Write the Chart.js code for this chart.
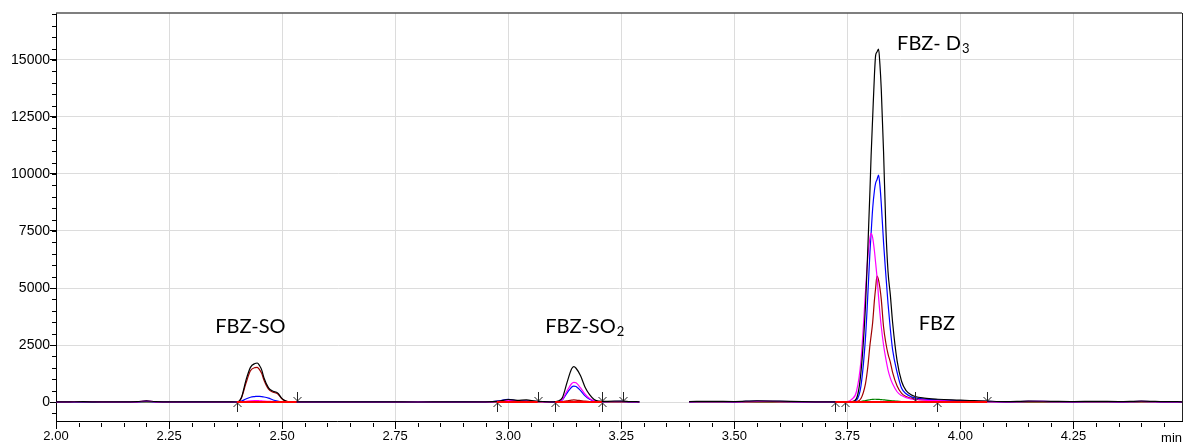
<!DOCTYPE html>
<html>
<head>
<meta charset="utf-8">
<script src="https://cdn.jsdelivr.net/npm/chart.js@4.4.0/dist/chart.umd.min.js"></script>
<style>
  body { margin: 0; background: #fff; }
  #wrap { width: 1188px; height: 447px; }
</style>
</head>
<body>
<div id="wrap"><canvas id="chrom"></canvas></div>
<script>
// retention time in min (the 3.35 row is the gap between the two segments)
const timeMin = [
  2.00, 2.03, 2.06, 2.10, 2.15, 2.18, 2.20, 2.22, 2.26, 2.30, 2.35, 2.38,
  2.40, 2.41, 2.42, 2.43, 2.44, 2.445, 2.45, 2.455, 2.46, 2.47, 2.48, 2.49, 2.50, 2.51, 2.52,
  2.55, 2.60, 2.65, 2.70, 2.75, 2.80, 2.85, 2.90, 2.95, 2.98, 3.00, 3.02, 3.04, 3.06, 3.08, 3.10,
  3.11, 3.12, 3.13, 3.14, 3.145, 3.15, 3.16, 3.17, 3.18, 3.19, 3.20, 3.22, 3.25, 3.27, 3.29,
  3.35,
  3.40, 3.45, 3.50, 3.55, 3.60, 3.65, 3.70, 3.72, 3.74, 3.75,
  3.76, 3.77, 3.78, 3.79, 3.795, 3.80, 3.8025, 3.806, 3.81, 3.8125, 3.8155, 3.819, 3.822, 3.825, 3.83,
  3.835, 3.84, 3.845, 3.85, 3.86, 3.87, 3.88, 3.89, 3.90, 3.92, 3.95, 3.98, 4.00, 4.03, 4.06,
  4.10, 4.15, 4.20, 4.25, 4.30, 4.35, 4.40, 4.45, 4.49
];

const blackTrace = [
  5, 10, 15, 5, 5, 20, 50, 15, 5, 10, 5, 5,
  0, 200, 950, 1520, 1690, 1710, 1600, 1400, 1050, 620, 470, 400, 150, 30, 5,
  5, 10, 5, 10, 5, 0, 5, 10, 10, 40, 110, 70, 90, 40, 20, 10,
  40, 200, 850, 1450, 1550, 1480, 1150, 650, 320, 110, 40, 30, 40, 20, 10,
  null,
  20, 30, 20, 50, 40, 20, 10, 10, 10, 15,
  20, 150, 1300, 4200, 6600, 9300, 10800, 12500, 14400, 15200, 15350, 15480, 14800, 13700, 11000,
  7700, 5700, 4700, 3500, 1800, 900, 500, 330, 240, 170, 120, 90, 80, 60, 40,
  20, 40, 30, 20, 30, 20, 40, 20, 10
];

const blueTrace = [
  0, 5, 10, 0, 0, 10, 30, 5, 0, 5, 0, 0,
  0, 40, 130, 210, 240, 250, 245, 235, 220, 170, 90, 40, 10, 0, 0,
  0, 5, 0, 5, 0, 0, 0, 5, 10, 50, 120, 60, 50, 30, 20, 10,
  15, 100, 390, 650, 700, 680, 500, 270, 120, 40, 10, 20, 30, 10, 5,
  null,
  10, 20, 10, 40, 30, 10, 5, 5, 5, 10,
  10, 80, 700, 2800, 4600, 6600, 7400, 8500, 9300, 9600, 9750, 9950, 9500, 8700, 7000,
  5600, 4300, 3200, 2300, 1300, 600, 360, 240, 180, 130, 90, 70, 60, 40, 30,
  10, 30, 20, 10, 20, 10, 30, 10, 5
];

const magentaTrace = [
  0, 10, 20, 5, 0, 10, 50, 10, 0, 0, 0, 0,
  0, 10, 30, 50, 60, 60, 55, 50, 40, 30, 20, 10, 5, 0, 0,
  0, 0, 0, 0, 0, 0, 0, 0, 5, 30, 70, 50, 40, 20, 10, 5,
  20, 120, 480, 800, 860, 840, 620, 340, 150, 50, 15, 20, 20, 10, 5,
  null,
  10, 20, 10, 30, 20, 10, 5, 5, 10, 20,
  120, 450, 1800, 4800, 6300, 7200, 7400, 7200, 6600, 6100, 5500, 4600, 3900, 3300, 2500,
  1900, 1400, 1050, 800, 450, 280, 190, 140, 110, 80, 60, 40, 30, 20, 10,
  10, 30, 20, 10, 20, 10, 30, 10, 5
];

const brownTrace = [
  0, 0, 5, 0, 0, 5, 20, 5, 0, 0, 0, 0,
  0, 180, 820, 1370, 1510, 1520, 1420, 1250, 950, 560, 430, 360, 130, 25, 5,
  0, 0, 0, 0, 0, 0, 0, 0, 0, 10, 30, 20, 15, 10, 5, 0,
  5, 20, 50, 80, 90, 85, 60, 35, 15, 5, 0, 0, 0, 0, 0,
  null,
  0, 5, 0, 10, 5, 0, 0, 0, 0, 0,
  0, 20, 150, 800, 1500, 2500, 2900, 3500, 4500, 5000, 5520, 5350, 5000, 4500, 3300,
  2600, 2100, 1750, 1300, 700, 380, 240, 170, 130, 90, 70, 50, 40, 25, 15,
  5, 10, 5, 0, 5, 0, 10, 5, 0
];

const greenTrace = [
  0, 0, 0, 0, 0, 0, 0, 0, 0, 0, 0, 0,
  0, 0, 0, 0, 0, 0, 0, 0, 0, 0, 0, 0, 0, 0, 0,
  0, 0, 0, 0, 0, 0, 0, 0, 0, 0, 0, 0, 0, 0, 0, 0,
  0, 0, 0, 0, 0, 0, 0, 0, 0, 0, 0, 0, 0, 0, 0,
  null,
  0, 5, 5, 10, 5, 0, 0, 0, 0, 0,
  0, 0, 20, 60, 80, 100, 110, 115, 120, 120, 118, 115, 110, 105, 95,
  85, 75, 65, 55, 35, 20, 10, 0, 0, 0, 0, 0, 0, 0, 0,
  0, 5, 10, 0, 5, 0, 20, 10, 0
];

// integration baselines (start / end, min)
const intStart = [2.40, 2.975, 3.104, 3.7235];
const intEnd = [2.532, 3.065, 3.207, 4.059];

// peak start / end markers
const arrowUp = [2.40, 2.975, 3.104, 3.207, 3.7235, 3.7456, 3.948];
const arrowDown = [2.532, 3.065, 3.207, 3.253, 3.900, 4.059];

// peak names
const peakName = ['FBZ-SO', 'FBZ-SO', 'FBZ- D', 'FBZ'];
const peakSub = ['', '2', '3', ''];
const peakX = [2.352, 3.082, 3.860, 3.908];
const peakY = [3026, 3026, 15440, 3160];

// axis ticks
const xTicks = [2.00, 2.25, 2.50, 2.75, 3.00, 3.25, 3.50, 3.75, 4.00, 4.25];
const yTicks = [0, 2500, 5000, 7500, 10000, 12500, 15000];

function pts(vals) {
  return timeMin.map((t, i) => ({ x: t, y: vals[i] }));
}

const redPts = [];
intStart.forEach((s, i) => {
  redPts.push({ x: s, y: 0 }, { x: intEnd[i], y: 0 }, { x: (intEnd[i] + (intStart[i + 1] || 4.4)) / 2, y: null });
});

function trace(data, color, width) {
  return {
    data: data,
    borderColor: color,
    borderWidth: width,
    pointRadius: 0,
    fill: false,
    spanGaps: false,
    cubicInterpolationMode: 'monotone'
  };
}

const overlay = {
  id: 'overlay',
  afterDraw(chart) {
    const ctx = chart.ctx, xs = chart.scales.x, ys = chart.scales.y, a = chart.chartArea;
    ctx.save();
    // frame top & right
    ctx.strokeStyle = '#555';
    ctx.lineWidth = 1.5;
    ctx.beginPath();
    ctx.moveTo(a.left, a.top);
    ctx.lineTo(a.right, a.top);
    ctx.stroke();
    ctx.lineWidth = 1;
    ctx.strokeStyle = '#222';
    ctx.beginPath();
    ctx.moveTo(a.right + 0.5, a.top);
    ctx.lineTo(a.right + 0.5, a.bottom);
    ctx.stroke();

    // minor ticks
    ctx.strokeStyle = '#000';
    ctx.beginPath();
    for (let v = 2.05; v < xs.max; v += 0.05) {
      const px = Math.round(xs.getPixelForValue(v)) + 0.5;
      ctx.moveTo(px, a.bottom + 2);
      ctx.lineTo(px, a.bottom + 6);
    }
    for (let v = -500; v < ys.max; v += 500) {
      const py = Math.round(ys.getPixelForValue(v)) + 0.5;
      ctx.moveTo(a.left - 4, py);
      ctx.lineTo(a.left, py);
    }
    ctx.stroke();

    // integration arrows
    const y0 = ys.getPixelForValue(0);
    ctx.strokeStyle = '#222';
    ctx.lineWidth = 1;
    ctx.beginPath();
    arrowUp.forEach(t => {
      const px = Math.round(xs.getPixelForValue(t)) + 0.5;
      ctx.moveTo(px, y0 + 1); ctx.lineTo(px, y0 + 10);
      ctx.moveTo(px - 4, y0 + 5); ctx.lineTo(px, y0 + 1); ctx.lineTo(px + 4, y0 + 5);
    });
    arrowDown.forEach(t => {
      const px = Math.round(xs.getPixelForValue(t)) + 0.5;
      ctx.moveTo(px, y0 - 1); ctx.lineTo(px, y0 - 10);
      ctx.moveTo(px - 4, y0 - 5); ctx.lineTo(px, y0 - 1); ctx.lineTo(px + 4, y0 - 5);
    });
    ctx.stroke();

    // peak names
    ctx.fillStyle = '#000';
    ctx.textBaseline = 'alphabetic';
    peakName.forEach((n, i) => {
      const px = xs.getPixelForValue(peakX[i]);
      const py = ys.getPixelForValue(peakY[i]);
      ctx.font = '20px Lato';
      ctx.fillText(n, px, py);
      if (peakSub[i]) {
        const w = ctx.measureText(n).width;
        ctx.font = '13px Lato';
        ctx.fillText(peakSub[i], px + w + 1, py + 3);
      }
    });

    // axis unit
    ctx.font = '13px "Liberation Sans"';
    ctx.textAlign = 'right';
    ctx.fillText('min', a.right, 442);
    ctx.restore();
  }
};

new Chart(document.getElementById('chrom'), {
  type: 'line',
  data: {
    datasets: [
      trace(redPts, '#ff0000', 2),
      trace(pts(blackTrace), '#000000', 1.2),
      trace(pts(magentaTrace), '#ff00ff', 1.2),
      trace(pts(blueTrace), '#0000ff', 1.2),
      trace(pts(brownTrace), '#a00000', 1.2),
      trace(pts(greenTrace), '#008000', 1.2)
    ]
  },
  options: {
    responsive: true,
    maintainAspectRatio: false,
    animation: false,
    layout: { padding: { top: 13, right: 6, left: 0, bottom: 0 } },
    plugins: {
      legend: { display: false },
      tooltip: { enabled: false }
    },
    scales: {
      x: {
        type: 'linear',
        min: 2.0,
        max: 4.49,
        afterFit: s => { s.height = 26; },
        afterBuildTicks: s => { s.ticks = xTicks.map(v => ({ value: v })); },
        border: { color: '#000', width: 1 },
        grid: { color: '#dcdcdc', tickColor: '#000', tickLength: 8 },
        ticks: {
          padding: 0,
          color: '#000',
          font: { family: 'Liberation Sans', size: 13 },
          maxRotation: 0,
          autoSkip: false,
          callback: v => v.toFixed(2)
        }
      },
      y: {
        type: 'linear',
        min: -833,
        max: 17061,
        afterFit: s => { s.width = 56; },
        afterBuildTicks: s => { s.ticks = yTicks.map(v => ({ value: v })); },
        border: { color: '#000', width: 1 },
        grid: { color: '#dcdcdc', tickColor: '#000', tickLength: 6 },
        ticks: {
          padding: 0,
          color: '#000',
          autoSkip: false,
          font: { family: 'Liberation Sans', size: 14 },
          callback: v => String(v)
        }
      }
    }
  },
  plugins: [overlay]
});
</script>
</body>
</html>
